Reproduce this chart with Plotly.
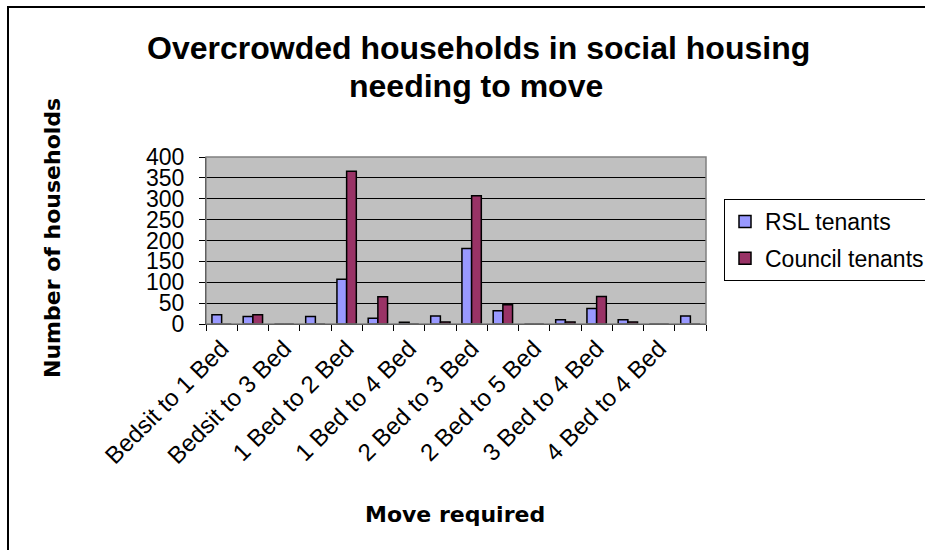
import plotly.graph_objects as go

categories = [
    "Bedsit to 1 Bed", "Bedsit to 2 Bed", "Bedsit to 3 Bed", "Bedsit to 4 Bed",
    "1 Bed to 2 Bed", "1 Bed to 3 Bed", "1 Bed to 4 Bed", "1 Bed to 5 Bed",
    "2 Bed to 3 Bed", "2 Bed to 4 Bed", "2 Bed to 5 Bed", "3 Bed to 3 Bed",
    "3 Bed to 4 Bed", "3 Bed to 5 Bed", "4 Bed to 4 Bed", "4 Bed to 5 Bed",
]
rsl_tenants = [22, 18, 0, 18, 107, 14, 4, 19, 181, 32, 0, 10, 37, 10, 0, 19]
council_tenants = [0, 22, 0, 0, 366, 65, 0, 5, 307, 46, 0, 5, 66, 5, 0, 0]
shown_labels = [c if i % 2 == 0 else "" for i, c in enumerate(categories)]

FONT = "Liberation Sans"
BOLD = "DejaVu Sans"

fig = go.Figure()
fig.add_trace(go.Bar(name="RSL tenants", x=categories, y=rsl_tenants, legendgroup="rsl",
                     marker=dict(color="#9999FF", line=dict(color="black", width=1.5))))
fig.add_trace(go.Bar(name="Council tenants", x=categories, y=council_tenants, legendgroup="council",
                     marker=dict(color="#993366", line=dict(color="black", width=1.5))))

L, R, T, B = 206, 219, 157, 226
W, H = 925, 550
pw, ph = W - L - R, H - T - B


def px_x(px):
    return (px - L) / pw


def px_y(py):
    return (H - B - py) / ph


fig.update_layout(
    width=W, height=H,
    margin=dict(l=L, r=R, t=T, b=B, autoexpand=False),
    paper_bgcolor="white",
    plot_bgcolor="#C0C0C0",
    barmode="group",
    bargap=0.38,
    bargroupgap=0,
    font=dict(family=FONT, color="black"),
    showlegend=True,
    legend=dict(x=px_x(724), xanchor="left", y=px_y(199), yanchor="top",
                bordercolor="black", borderwidth=1, bgcolor="white",
                font=dict(family=FONT, size=23, color="black"),
                traceorder="grouped", tracegroupgap=4, itemwidth=30),
    xaxis=dict(
        type="category",
        tickmode="array", tickvals=categories, ticktext=shown_labels,
        tickson="boundaries", ticks="outside", ticklen=6, tickcolor="black",
        tickangle=-45, tickfont=dict(family=FONT, size=24, color="black"),
        ticklabelstandoff=0,
        showgrid=False, showline=True, linecolor="black", linewidth=1,
    ),
    yaxis=dict(
        range=[0, 400], dtick=50, tick0=0,
        ticks="outside", ticklen=6, tickcolor="black",
        ticklabelstandoff=10,
        tickfont=dict(family=FONT, size=23, color="black"),
        showgrid=True, gridcolor="black", gridwidth=1,
        showline=True, linecolor="black", linewidth=1,
        zeroline=False,
    ),
)

# Title
fig.add_annotation(text="<b>Overcrowded households in social housing</b>",
                   xref="paper", yref="paper", x=px_x(478), y=px_y(48),
                   xanchor="center", yanchor="middle", showarrow=False,
                   font=dict(family=FONT, size=32, color="black"))
fig.add_annotation(text="<b>needing to move</b>",
                   xref="paper", yref="paper", x=px_x(476), y=px_y(86),
                   xanchor="center", yanchor="middle", showarrow=False,
                   font=dict(family=FONT, size=32, color="black"))
# Axis titles
fig.add_annotation(text="<b>Number of households</b>",
                   xref="paper", yref="paper", x=px_x(52), y=px_y(238),
                   xanchor="center", yanchor="middle", showarrow=False, textangle=-90,
                   font=dict(family=BOLD, size=22, color="black"))
fig.add_annotation(text="<b>Move required</b>",
                   xref="paper", yref="paper", x=px_x(455), y=px_y(514),
                   xanchor="center", yanchor="middle", showarrow=False,
                   font=dict(family=BOLD, size=22, color="black"))

# plot-area grey border (top/right)
fig.add_shape(type="rect", xref="paper", yref="paper", x0=0, y0=0, x1=1, y1=1,
              line=dict(color="#808080", width=1.5), layer="above")
# outer chart border (left/top visible)
fig.add_shape(type="rect", xref="paper", yref="paper",
              x0=px_x(8), x1=px_x(W + 20),
              y0=px_y(H + 20), y1=px_y(7),
              line=dict(color="black", width=2))

fig.write_html("out.html")
